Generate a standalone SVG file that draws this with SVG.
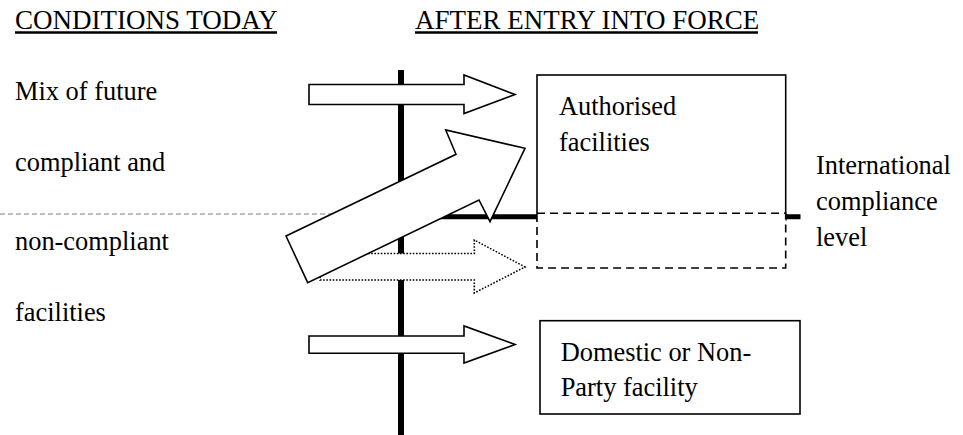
<svg xmlns="http://www.w3.org/2000/svg" width="963" height="435" viewBox="0 0 963 435">
<style>
text{font-family:"Liberation Serif","Times New Roman",serif;font-size:26.4px;fill:#000}
.hd{font-size:27px}
.box{fill:#fff;stroke:#000;stroke-width:1.6}
.arrow{fill:#fff;stroke:#000;stroke-width:1.6;stroke-linejoin:miter}
.ul{stroke:#000;stroke-width:2.4}
</style>
<rect width="963" height="435" fill="#fff"/>
<g id="headers">
<text class="hd" x="15" y="28.5">CONDITIONS TODAY</text>
<line class="ul" x1="15" y1="32.5" x2="277" y2="32.5"/>
<text class="hd" x="415" y="28.5">AFTER ENTRY INTO FORCE</text>
<line class="ul" x1="415" y1="32.5" x2="758" y2="32.5"/>
</g>
<g id="left-label">
<text x="15" y="100">Mix of future</text>
<text x="15" y="171">compliant and</text>
<text x="15" y="250">non-compliant</text>
<text x="15" y="321">facilities</text>
</g>
<g id="compliance-label">
<text x="816" y="174">International</text>
<text x="816" y="210">compliance</text>
<text x="816" y="246">level</text>
</g>
<g id="connectors">
<line x1="0" y1="214" x2="401" y2="214" stroke="#808080" stroke-width="1" stroke-dasharray="5 3"/>
<line x1="401" y1="216.8" x2="800.5" y2="216.8" stroke="#000" stroke-width="5"/>
<line x1="401" y1="70" x2="401" y2="435" stroke="#000" stroke-width="6"/>
<polygon id="arrow-dotted" points="320,253.5 474.3,253.5 474.3,240 525,267 474.3,293 474.3,280 320,280" fill="#fff" stroke="#000" stroke-width="1.6" stroke-dasharray="1.6 1.6"/>
<polygon id="arrow-top" class="arrow" points="309,84.5 464,84.5 464,75 515,94.5 464,113.5 464,104.5 309,104.5"/>
<polygon id="arrow-bottom" class="arrow" points="309,336 464,336 464,326 515,344.5 464,363 464,353.3 309,353.3"/>
<polygon id="arrow-diagonal" class="arrow" points="286,236 456,154.3 445.7,130 525,148.3 490,221.7 479,200 307.7,282.7"/>
</g>
<g id="authorised">
<rect class="box" x="537" y="75" width="248.7" height="145"/>
<text x="559" y="115">Authorised</text>
<text x="559" y="150.7">facilities</text>
</g>
<g id="below-level">
<rect x="537" y="213.3" width="248.7" height="54.7" fill="#fff" stroke="#000" stroke-width="1.6" stroke-dasharray="8 5"/>
</g>
<g id="domestic">
<rect class="box" x="540" y="320.7" width="260" height="93.3"/>
<text x="560.7" y="361">Domestic or Non-</text>
<text x="560.7" y="396">Party facility</text>
</g>
</svg>
